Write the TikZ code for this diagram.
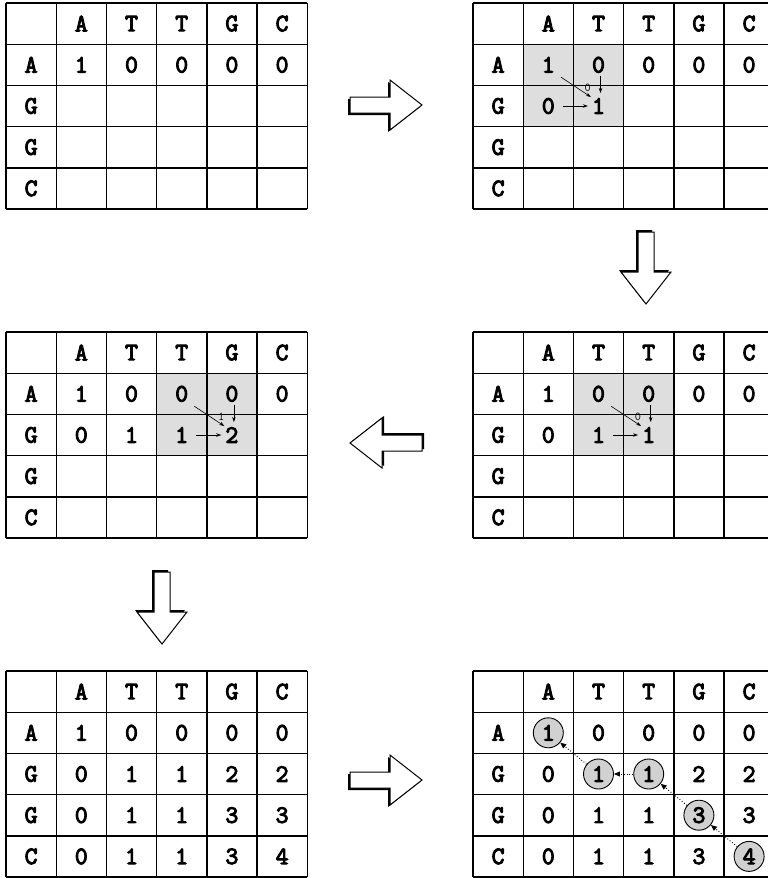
\documentclass[tikz,border=0pt]{standalone}
\usepackage{fontspec}
\newfontfamily\cellfont[FakeBold=4]{Latin Modern Mono}
\usetikzlibrary{arrows.meta}

\definecolor{cellgray}{gray}{0.87}
\definecolor{ringgray}{gray}{0.82}

\tikzset{
  gridline/.style={line width=1.4pt},
  entry/.style={font=\cellfont\fontsize{25}{27}\selectfont, inner sep=1pt},
  hint/.style={font=\ttfamily\fontsize{12}{13}\selectfont, inner sep=0.5pt},
  move/.style={-{Stealth[length=5pt,width=3.5pt]}, line width=0.6pt},
  trace/.style={dotted, line width=0.9pt, -{Triangle[length=6pt,width=5pt]}},
  ring/.style={circle, draw, line width=0.9pt, fill=ringgray, minimum size=30pt},
  bigarrow/.style={draw, fill=white, line width=1pt, line join=miter}
}

\newcommand\dptable[4]{%
  \begin{scope}[shift={#2}, x=50.2pt, y=-41.2pt]
    #3
    \foreach \i in {0,...,6} \draw[gridline] (\i,0) -- (\i,5);
    \foreach \j in {0,...,5} \draw[gridline] (0,\j) -- (6,\j);
    \foreach \s [count=\c] in {A,T,T,G,C} \node[entry] (#1-0-\c) at (\c+0.5,0.5) {\s};
    \foreach \s [count=\r] in {A,G,G,C} \node[entry] (#1-\r-0) at (0.5,\r+0.5) {\s};
    \foreach \row [count=\r] in {#4}
      \foreach \v [count=\c] in \row
        \node[entry] (#1-\r-\c) at (\c+0.5,\r+0.5) {\v};
  \end{scope}}

\newcommand\bigarrow[3]{%
  \begin{scope}[shift={(#1,#2)}, rotate=#3]
    \fill[black, shift={(-2,2)}] (-36,-8) -- (4,-8) -- (4,-25) -- (36,0) -- (4,25) -- (4,8) -- (-36,8) -- cycle;
    \draw[bigarrow] (-36,-8) -- (4,-8) -- (4,-25) -- (36,0) -- (4,25) -- (4,8) -- (-36,8) -- cycle;
  \end{scope}}

\begin{document}
\begin{tikzpicture}[x=1pt, y=-1pt]
\clip (0,0) rectangle (768,878);

\dptable{t1}{(6,3)}{}{{1,0,0,0,0}}
\dptable{t2}{(473,3)}{\fill[cellgray] (1,1) rectangle (3,3);}{{1,0,0,0,0},{0,1}}
\dptable{t3}{(473,332)}{\fill[cellgray] (2,1) rectangle (4,3);}{{1,0,0,0,0},{0,1,1}}
\dptable{t4}{(6,332)}{\fill[cellgray] (3,1) rectangle (5,3);}{{1,0,0,0,0},{0,1,1,2}}
\dptable{t5}{(6,671)}{}{{1,0,0,0,0},{0,1,1,2,2},{0,1,1,3,3},{0,1,1,3,4}}
\dptable{t6}{(473,671)}{%
  \node[ring] (p1) at (1.5,1.5) {};
  \node[ring] (p2) at (2.5,2.5) {};
  \node[ring] (p3) at (3.5,2.5) {};
  \node[ring] (p4) at (4.5,3.5) {};
  \node[ring] (p5) at (5.5,4.5) {};
}{{1,0,0,0,0},{0,1,1,2,2},{0,1,1,3,3},{0,1,1,3,4}}

\draw[move, shorten <=6pt] (t2-1-1.south east) -- (t2-2-2.north west) node[hint, pos=0.8, above right=0pt] {0};
\draw[move, shorten <=2pt, shorten >=4pt] ([xshift=2pt]t2-1-2.south) -- ([xshift=2pt]t2-2-2.north);
\draw[move, shorten <=7pt, shorten >=3pt] (t2-2-1.east) -- (t2-2-2.west);

\draw[move, shorten <=6pt] (t3-1-2.south east) -- (t3-2-3.north west) node[hint, pos=0.8, above right=0pt] {0};
\draw[move, shorten <=2pt, shorten >=4pt] ([xshift=2pt]t3-1-3.south) -- ([xshift=2pt]t3-2-3.north);
\draw[move, shorten <=7pt, shorten >=3pt] (t3-2-2.east) -- (t3-2-3.west);

\draw[move, shorten <=6pt] (t4-1-3.south east) -- (t4-2-4.north west) node[hint, pos=0.8, above right=0pt] {1};
\draw[move, shorten <=2pt, shorten >=4pt] ([xshift=2pt]t4-1-4.south) -- ([xshift=2pt]t4-2-4.north);
\draw[move, shorten <=7pt, shorten >=3pt] (t4-2-3.east) -- (t4-2-4.west);

\draw[trace] (p5) -- (p4);
\draw[trace] (p4) -- (p3);
\draw[trace] (p3) -- (p2);
\draw[trace] (p2) -- (p1);

\bigarrow{386}{105}{0}
\bigarrow{646}{268}{-90}
\bigarrow{386}{443}{180}
\bigarrow{162}{608}{-90}
\bigarrow{386}{780}{0}
\end{tikzpicture}
\end{document}
